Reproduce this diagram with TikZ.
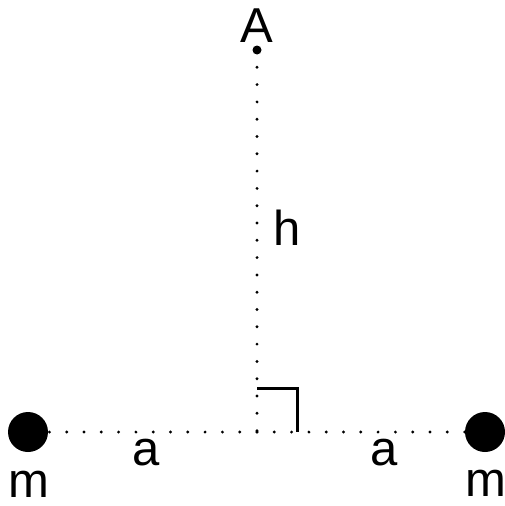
\documentclass[tikz,border=0pt]{standalone}
\usepackage{fontspec}
\setmainfont{Liberation Sans}
\begin{document}
\begin{tikzpicture}[x=1pt,y=-1pt,
  lbl/.style={inner sep=0pt,text depth=0pt,font=\fontsize{49}{54}\selectfont},
  dotline/.style={line width=3.2pt,line cap=round,dash pattern=on 0pt off 17.3pt},
  mass/.style={circle,fill=black,minimum size=40pt,inner sep=0pt},
  pt/.style={circle,fill=black,minimum size=9pt,inner sep=0pt}]
\useasboundingbox (0,0) rectangle (505,506);
\node[pt] (A) at (257,50) {};
\coordinate (O) at (257,432);
\node[mass] (L) at (28,432) {};
\node[mass] (R) at (485,432) {};
\draw[dotline] (A.center) -- (O);
\draw[dotline] (O) -- (L.center);
\draw[dotline] (O) -- (R.center);
\coordinate (c1) at (257,388);
\coordinate (c2) at (297,388);
\coordinate (c3) at (297,432);
\draw[line width=3pt] (c1) -- (c2) -- (c3);
\node[lbl,anchor=base] (tA) at (257,42) {A};
\node[lbl,anchor=base] (th) at (287,245) {h};
\node[lbl,anchor=base] (ta1) at (146,465) {a};
\node[lbl,anchor=base] (ta2) at (384,465) {a};
\node[lbl,anchor=base] (tm1) at (29,497) {m};
\node[lbl,anchor=base] (tm2) at (486,496) {m};
\end{tikzpicture}
\end{document}
